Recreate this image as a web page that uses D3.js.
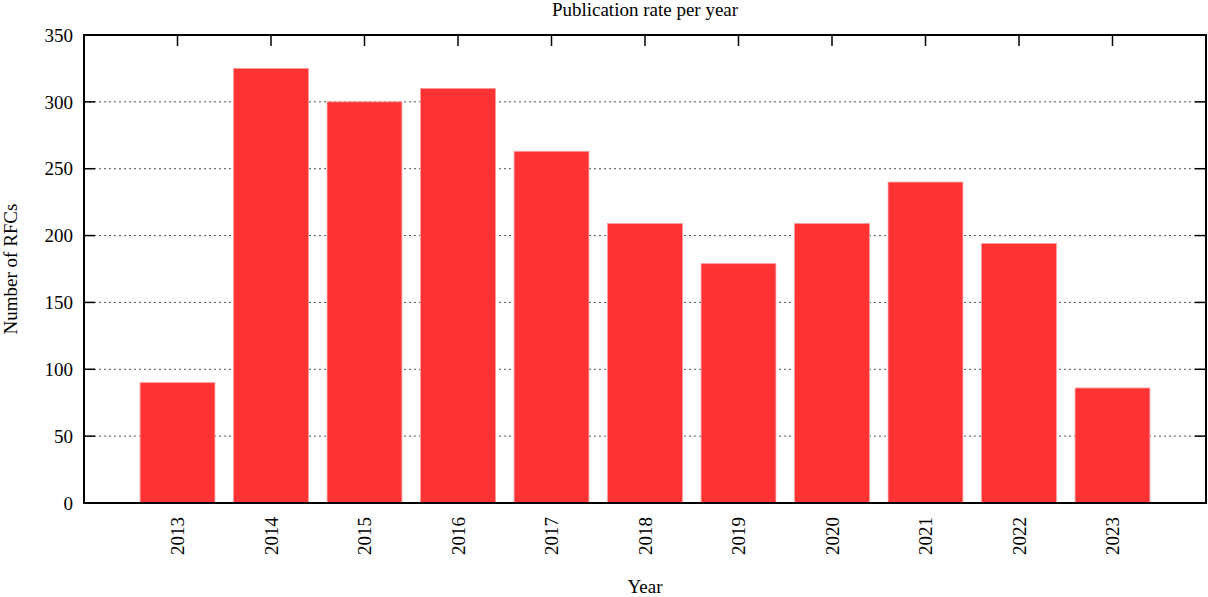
<!DOCTYPE html>
<html>
<head>
<meta charset="utf-8">
<script src="https://cdn.jsdelivr.net/npm/d3@7"></script>
<style>
  body { margin: 0; background: #fff; }
  text { font-family: "Liberation Serif", "Times New Roman", serif; font-size: 19px; fill: #000; }
</style>
</head>
<body>
<svg id="chart"></svg>
<script>
// chart data
const years = [2013, 2014, 2015, 2016, 2017, 2018, 2019, 2020, 2021, 2022, 2023];
const rfcCounts = [90, 325, 300, 310, 263, 209, 179, 209, 240, 194, 86];
const yTicks = [0, 50, 100, 150, 200, 250, 300, 350];

const width = 1208, height = 597;
const margin = {top: 35, right: 2, bottom: 94, left: 84};
const innerW = width - margin.left - margin.right;
const innerH = height - margin.top - margin.bottom;

const svg = d3.select('#chart')
  .attr('width', width)
  .attr('height', height);

const g = svg.append('g')
  .attr('transform', 'translate(' + margin.left + ',' + margin.top + ')');

let x = d3.scaleLinear()
  .domain([d3.min(years) - 1, d3.max(years) + 1])
  .range([0, innerW]);

let y = d3.scaleLinear()
  .domain([0, 350])
  .range([innerH, 0]);

const barW = (x(1) - x(0)) * 0.8;

// dotted grid
g.append('g').selectAll('line')
  .data(yTicks.filter(function(d) { return d > 0 && d < 350; }))
  .enter().append('line')
  .attr('x1', 0)
  .attr('x2', innerW)
  .attr('y1', function(d) { return y(d); })
  .attr('y2', function(d) { return y(d); })
  .attr('stroke', '#555')
  .attr('stroke-width', 1)
  .attr('stroke-dasharray', '2,3');

// bars
g.append('g').selectAll('rect')
  .data(years)
  .enter().append('rect')
  .attr('x', function(d) { return x(d) - barW / 2; })
  .attr('y', function(d, i) { return y(rfcCounts[i]); })
  .attr('width', barW)
  .attr('height', function(d, i) { return innerH - y(rfcCounts[i]); })
  .attr('fill', '#ff3333')
  .attr('stroke', '#ff9999')
  .attr('stroke-width', 0.8);

// ticks (gnuplot style, pointing inward)
const tickLen = 11;
const ticks = g.append('g').attr('stroke', '#000').attr('stroke-width', 1.5);
yTicks.forEach(function(t) {
  ticks.append('line').attr('x1', 0).attr('x2', tickLen).attr('y1', y(t)).attr('y2', y(t));
  ticks.append('line').attr('x1', innerW).attr('x2', innerW - tickLen).attr('y1', y(t)).attr('y2', y(t));
});
years.forEach(function(yr) {
  ticks.append('line').attr('x1', x(yr)).attr('x2', x(yr)).attr('y1', 0).attr('y2', tickLen);
});

// frame
g.append('rect')
  .attr('x', 0).attr('y', 0)
  .attr('width', innerW).attr('height', innerH)
  .attr('fill', 'none')
  .attr('stroke', '#000')
  .attr('stroke-width', 2);

// y tick labels
g.append('g').selectAll('text')
  .data(yTicks)
  .enter().append('text')
  .attr('x', -11)
  .attr('y', function(d) { return y(d); })
  .attr('dy', '0.35em')
  .attr('text-anchor', 'end')
  .text(function(d) { return d; });

// x tick labels, rotated
g.append('g').selectAll('text')
  .data(years)
  .enter().append('text')
  .attr('transform', function(d) {
    return 'translate(' + x(d) + ',' + (innerH + 14) + ') rotate(-90)';
  })
  .attr('dy', '0.35em')
  .attr('text-anchor', 'end')
  .text(function(d) { return d; });

// titles
svg.append('text')
  .attr('x', margin.left + innerW / 2)
  .attr('y', 16)
  .attr('text-anchor', 'middle')
  .text('Publication rate per year');

svg.append('text')
  .attr('x', margin.left + innerW / 2)
  .attr('y', 593)
  .attr('text-anchor', 'middle')
  .text('Year');

svg.append('text')
  .attr('transform', 'translate(17,' + (margin.top + innerH / 2) + ') rotate(-90)')
  .attr('text-anchor', 'middle')
  .text('Number of RFCs');
</script>
</body>
</html>
